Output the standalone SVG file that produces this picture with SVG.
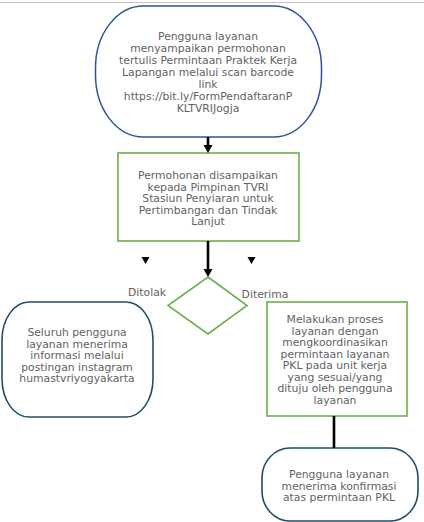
<svg xmlns="http://www.w3.org/2000/svg" width="424" height="522" viewBox="0 0 424 522">
<style>
text{font-family:"DejaVu Sans","Liberation Sans",sans-serif;font-size:10.8px;fill:#626262;text-anchor:middle}
.g{fill:#ffffff;stroke:#6cb04a;stroke-width:1.6}
.b{fill:#ffffff;stroke:#2f5496;stroke-width:1.5}
.t{fill:#ffffff;stroke:#1f4e6b;stroke-width:1.6}
.c{stroke:#000;stroke-width:2.6;fill:none}
.h{fill:#000}
</style>
<rect x="0" y="0" width="424" height="522" fill="#fff"/>
<line x1="0" y1="2.5" x2="424" y2="2.5" stroke="#c4c4c4" stroke-width="1.2"/>
<g id="n1">
<rect class="b" x="95.5" y="6" width="226" height="131" rx="48" ry="62"/>
<text x="208" y="40">Pengguna layanan</text>
<text x="208" y="52">menyampaikan permohonan</text>
<text x="208" y="64">tertulis Permintaan Praktek Kerja</text>
<text x="208" y="76">Lapangan melalui scan barcode</text>
<text x="208" y="88">link</text>
<text x="208" y="100">https://bit.ly/FormPendaftaranP</text>
<text x="208" y="112">KLTVRIJogja</text>
</g>
<g id="n2">
<rect class="g" x="118" y="153" width="181" height="88"/>
<text x="208" y="179">Permohonan disampaikan</text>
<text x="208" y="190.5">kepada Pimpinan TVRI</text>
<text x="208" y="202">Stasiun Penyiaran untuk</text>
<text x="208" y="213.5">Pertimbangan dan Tindak</text>
<text x="208" y="225">Lanjut</text>
</g>
<g id="n3">
<polygon class="g" points="208,277 247,305.5 208,334 168,305.5"/>
</g>
<g id="n4">
<rect class="t" x="2" y="302" width="151" height="115" rx="27" ry="38"/>
<text x="77" y="336">Seluruh pengguna</text>
<text x="77" y="347.5">layanan menerima</text>
<text x="77" y="359">informasi melalui</text>
<text x="77" y="370.5">postingan instagram</text>
<text x="77" y="382">humastvriyogyakarta</text>
</g>
<g id="n5">
<rect class="g" x="267" y="302" width="140" height="114"/>
<text x="335" y="323">Melakukan proses</text>
<text x="335" y="334.5">layanan dengan</text>
<text x="335" y="346">mengkoordinasikan</text>
<text x="335" y="357.5">permintaan layanan</text>
<text x="335" y="369">PKL pada unit kerja</text>
<text x="335" y="380.5">yang sesuai/yang</text>
<text x="335" y="392">dituju oleh pengguna</text>
<text x="335" y="403.5">layanan</text>
</g>
<g id="n6">
<rect class="t" x="262" y="448" width="156" height="73" rx="28" ry="30"/>
<text x="339" y="478">Pengguna layanan</text>
<text x="339" y="489.5">menerima konfirmasi</text>
<text x="339" y="501">atas permintaan PKL</text>
</g>
<g id="connectors">
<line class="c" x1="208" y1="137" x2="208" y2="146"/>
<polygon class="h" points="203.5,145 212.5,145 208,153"/>
<line class="c" x1="208" y1="241" x2="208" y2="270"/>
<polygon class="h" points="203.5,269 212.5,269 208,277"/>
<line class="c" x1="334" y1="416" x2="334" y2="448"/>
<polygon class="h" points="141.5,257 149.5,257 145.5,264"/>
<polygon class="h" points="247.5,257 255.5,257 251.5,264"/>
<text x="147" y="296">Ditolak</text>
<text x="265" y="298">Diterima</text>
</g>
</svg>
